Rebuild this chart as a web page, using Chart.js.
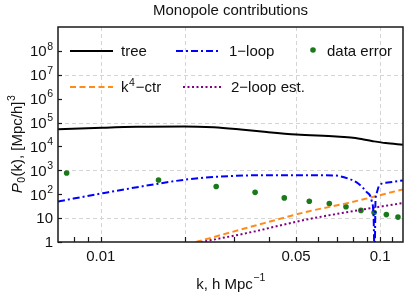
<!DOCTYPE html>
<html><head><meta charset="utf-8">
<script src="https://cdn.jsdelivr.net/npm/chart.js@4"></script>
<style>html,body{margin:0;padding:0;background:#fff;}canvas{display:block;}</style>
</head><body>
<canvas id="c" width="407" height="294"></canvas>
<script>
// ---- data ----
const treeK   = [0.00703, 0.0101, 0.0135, 0.0199, 0.0254, 0.0317, 0.0393, 0.0502, 0.0696, 0.0800, 0.0942, 0.1047, 0.1208];
const treeP   = [52000, 60500, 66500, 69000, 63000, 51000, 40000, 31600, 26000, 23000, 16600, 13800, 11700];
const loopK   = [0.00703, 0.0103, 0.0156, 0.0205, 0.0269, 0.0353, 0.0511, 0.0681, 0.0769, 0.0835, 0.0894, 0.0932, 0.0948, 0.0956, 0.0963, 0.0972, 0.0994, 0.1065, 0.1208];
const loopP   = [50, 113, 261, 420, 550, 617, 620, 610, 450, 280, 125, 56, 11, 0.2, 54, 110, 237, 308, 380];
const ctrK    = [0.0219, 0.0339, 0.0553, 0.0768, 0.1208];
const ctrP    = [1, 4.1, 19, 43, 160];
const twoK    = [0.0228, 0.0330, 0.0553, 0.0851, 0.1208];
const twoP    = [1, 2.3, 9, 22, 43];
const errK    = [0.00755, 0.0161, 0.0259, 0.0357, 0.0454, 0.0558, 0.0658, 0.0755, 0.0854, 0.0952, 0.1053, 0.1159];
const errP    = [775, 395, 210, 120, 70, 51, 41, 30, 21, 17, 14, 11];
const xTickVals  = [0.008, 0.009, 0.01, 0.02, 0.03, 0.04, 0.05, 0.06, 0.07, 0.08, 0.09, 0.1, 0.11];
const xTickLabels = {0.01: '0.01', 0.05: '0.05', 0.1: '0.1'};
const xGridVals  = [0.01, 0.02, 0.05, 0.1];
const yTickExps  = [0, 1, 2, 3, 4, 5, 6, 7, 8];
const yGridVals  = [10, 1e3, 1e5, 1e7];

const pts = (ks, ps) => ks.map((k, i) => ({x: k, y: ps[i]}));
const FONT = '"Liberation Sans", Arial, sans-serif';
const F = '15px ' + FONT, FS = '10.5px ' + FONT;

const DASH_LOOP = [7, 3, 2, 3], DASH_CTR = [6, 3.5], DASH_TWO = [2, 2.5];
const C_LOOP = '#0000ff', C_CTR = '#ff8c1a', C_TWO = '#800080', C_ERR = '#1a7a1a';

const deco = {
  id: 'deco',
  beforeDatasetsDraw(chart) {
    const {ctx, chartArea: a, scales: {x, y}} = chart;
    ctx.save();
    ctx.strokeStyle = '#d4d4d4'; ctx.lineWidth = 1; ctx.setLineDash([4, 3]);
    xGridVals.forEach(v => { const px = Math.round(x.getPixelForValue(v)) + 0.5;
      ctx.beginPath(); ctx.moveTo(px, a.top); ctx.lineTo(px, a.bottom); ctx.stroke(); });
    yGridVals.forEach(v => { const py = Math.round(y.getPixelForValue(v)) + 0.5;
      ctx.beginPath(); ctx.moveTo(a.left, py); ctx.lineTo(a.right, py); ctx.stroke(); });
    ctx.restore();
  },
  afterDatasetsDraw(chart) {
    const {ctx, chartArea: a, scales: {x, y}} = chart;
    ctx.save();
    ctx.setLineDash([]);
    ctx.strokeStyle = '#1a1a1a'; ctx.lineWidth = 1.5;
    ctx.strokeRect(a.left, a.top, a.right - a.left, a.bottom - a.top);
    ctx.lineWidth = 1.2;
    xTickVals.forEach(v => { const px = Math.round(x.getPixelForValue(v)) + 0.5;
      ctx.beginPath(); ctx.moveTo(px, a.bottom); ctx.lineTo(px, a.bottom - 5); ctx.stroke(); });
    yTickExps.forEach(e => { const py = Math.round(y.getPixelForValue(Math.pow(10, e))) + 0.5;
      ctx.beginPath(); ctx.moveTo(a.left, py); ctx.lineTo(a.left + 4, py); ctx.stroke(); });
    ctx.fillStyle = '#111';
    ctx.font = F; ctx.textAlign = 'center'; ctx.textBaseline = 'alphabetic';
    xTickVals.forEach(v => { if (xTickLabels[v]) ctx.fillText(xTickLabels[v], x.getPixelForValue(v), 260.5); });
    yTickExps.forEach(e => {
      const py = y.getPixelForValue(Math.pow(10, e)) + 5.3;
      const right = a.left - 5;
      ctx.textAlign = 'right';
      if (e === 0) { ctx.font = F; ctx.fillText('1', right, py); }
      else if (e === 1) { ctx.font = F; ctx.fillText('10', right, py); }
      else {
        ctx.font = FS; const ws = ctx.measureText(String(e)).width;
        ctx.fillText(String(e), right, py - 6.5);
        ctx.font = F; ctx.fillText('10', right - ws - 0.5, py);
      }
    });
    ctx.textAlign = 'left';
    const t1 = 'k, h Mpc'; ctx.font = F; const w1 = ctx.measureText(t1).width;
    ctx.font = FS; const w2 = ctx.measureText('\u22121').width;
    const cx = (a.left + a.right) / 2, x0 = cx - (w1 + w2) / 2;
    ctx.font = F; ctx.fillText(t1, x0, 288.5);
    ctx.font = FS; ctx.fillText('\u22121', x0 + w1 + 0.5, 281);
    ctx.save();
    ctx.translate(21.5, 144); ctx.rotate(-Math.PI / 2);
    const parts = [['P', 'italic ' + F, 0], ['0', FS, 3], ['(k), [Mpc/h]', F, 0], ['3', FS, -6.5]];
    let tw = 0; parts.forEach(p => { ctx.font = p[1]; tw += ctx.measureText(p[0]).width + 0.5; });
    let xx = -tw / 2;
    parts.forEach(p => { ctx.font = p[1]; ctx.fillText(p[0], xx, p[2]); xx += ctx.measureText(p[0]).width + 0.5; });
    ctx.restore();
    ctx.textAlign = 'center'; ctx.font = F;
    ctx.fillText('Monopole contributions', cx, 15);
    const line = (x1, x2, yy, color, dash) => { ctx.save(); ctx.strokeStyle = color; ctx.lineWidth = 2; ctx.setLineDash(dash);
      ctx.beginPath(); ctx.moveTo(x1, yy); ctx.lineTo(x2, yy); ctx.stroke(); ctx.restore(); };
    const r1 = 51, r2 = 87;
    ctx.textAlign = 'left'; ctx.font = F; ctx.fillStyle = '#111';
    line(70, 113, r1, '#000', []); ctx.fillText('tree', 121, r1 + 5.3);
    line(176, 218, r1, C_LOOP, DASH_LOOP); ctx.fillText('1\u2212loop', 229, r1 + 5.3);
    ctx.fillStyle = C_ERR; ctx.beginPath(); ctx.arc(313, r1 - 1, 2.8, 0, Math.PI * 2); ctx.fill();
    ctx.fillStyle = '#111'; ctx.fillText('data error', 327, r1 + 5.3);
    line(70, 113, r2, C_CTR, DASH_CTR);
    ctx.fillText('k', 121, r2 + 5.3); const kw = ctx.measureText('k').width;
    ctx.font = FS; ctx.fillText('4', 121 + kw + 0.5, r2 - 1.5); const fw = ctx.measureText('4').width;
    ctx.font = F; ctx.fillText('\u2212ctr', 121 + kw + fw + 1.5, r2 + 5.3);
    line(183, 221, r2, C_TWO, DASH_TWO); ctx.fillText('2\u2212loop est.', 231, r2 + 5.3);
    ctx.restore();
  }
};

new Chart(document.getElementById('c'), {
  type: 'line',
  data: {
    datasets: [
      {label: 'tree', data: pts(treeK, treeP), borderColor: '#000', borderWidth: 2, cubicInterpolationMode: 'monotone', pointRadius: 0},
      {label: '1-loop', data: pts(loopK, loopP), borderColor: C_LOOP, borderWidth: 2, borderDash: DASH_LOOP, cubicInterpolationMode: 'monotone', pointRadius: 0},
      {label: 'k4-ctr', data: pts(ctrK, ctrP), borderColor: C_CTR, borderWidth: 2, borderDash: DASH_CTR, cubicInterpolationMode: 'monotone', pointRadius: 0},
      {label: '2-loop est.', data: pts(twoK, twoP), borderColor: C_TWO, borderWidth: 2, borderDash: DASH_TWO, cubicInterpolationMode: 'monotone', pointRadius: 0},
      {label: 'data error', data: pts(errK, errP), showLine: false, pointRadius: 2.8, pointBackgroundColor: C_ERR, pointBorderWidth: 0, borderColor: C_ERR}
    ]
  },
  options: {
    responsive: false, animation: false, devicePixelRatio: 1,
    layout: {padding: {left: 58, top: 27, right: 2, bottom: 52}},
    scales: {
      x: {type: 'logarithmic', min: 0.007031, max: 0.1208, display: false},
      y: {type: 'logarithmic', min: 1, max: 1e9, display: false}
    },
    plugins: {legend: {display: false}, title: {display: false}, tooltip: {enabled: false}}
  },
  plugins: [deco]
});
</script>
</body></html>
